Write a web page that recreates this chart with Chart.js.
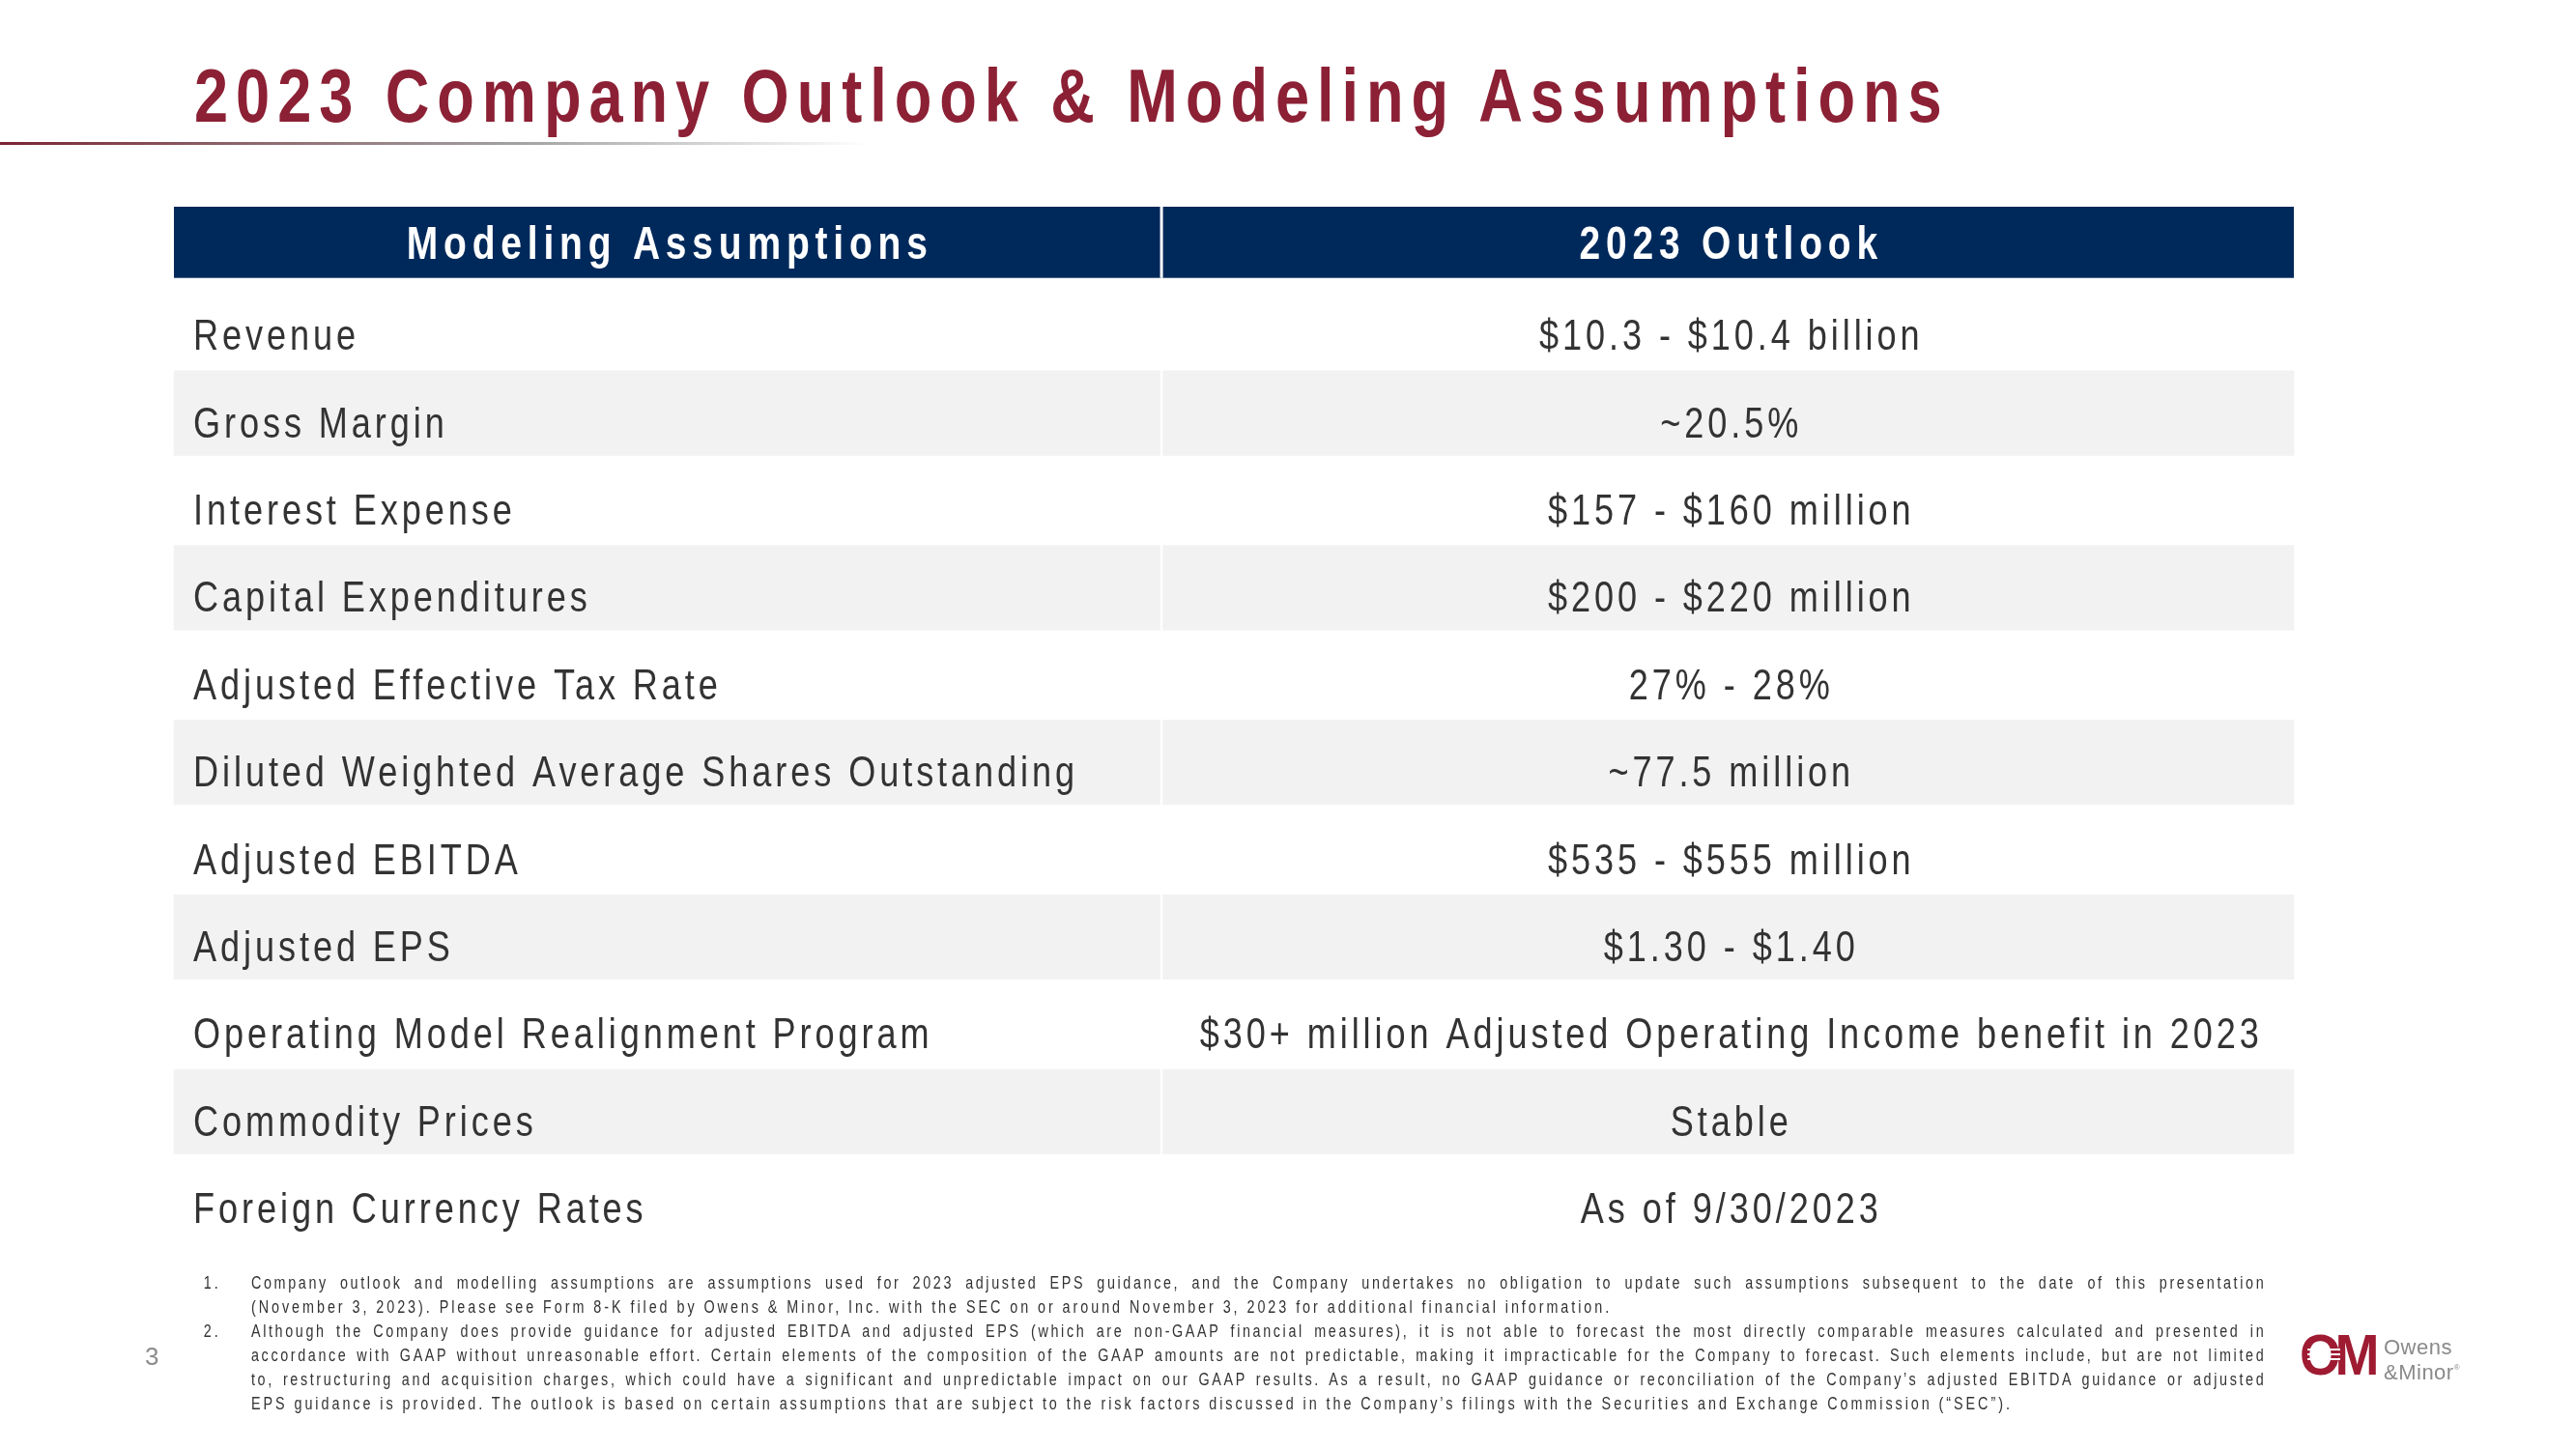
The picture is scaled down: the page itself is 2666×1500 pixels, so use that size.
<!DOCTYPE html>
<html>
<head>
<meta charset="utf-8">
<title>2023 Company Outlook &amp; Modeling Assumptions</title>
<script src="https://cdn.jsdelivr.net/npm/chart.js@4.4.1/dist/chart.umd.min.js"></script>
<style>
    html, body { margin: 0; padding: 0; background: #fff; }
    body {
        width: 2666px; height: 1500px; position: relative; overflow: hidden;
        font-family: "Liberation Sans", Arial, sans-serif;
    }
    #tableWrap { position: absolute; left: 0; top: 0; width: 2666px; height: 1500px; }
    /* no narrow face installed, so Liberation Sans is squeezed to ~82% */
    .title {
        position: absolute; left: 201px; top: 61px;
        font-size: 77px; line-height: 77px; font-weight: bold;
        letter-spacing: 9.7px; color: #8C2034; white-space: nowrap;
        transform: scaleX(0.82); transform-origin: left top;
    }
    .rule {
        position: absolute; left: 0; top: 147px; width: 900px; height: 3px;
        background: linear-gradient(to right, #7B2434 0%, #8E6A70 30%, #A3A3A3 60%, rgba(215, 215, 215, 0) 100%);
    }
    .notes {
        position: absolute; left: 260px; top: 1316px; width: 2543px;
        font-size: 17.5px; line-height: 25px; letter-spacing: 3.6px; color: #333;
        transform: scaleX(0.82); transform-origin: left top;
    }
    .notes .l { position: relative; text-align: left; }
    .notes .j { text-align: justify; text-align-last: justify; letter-spacing: 3.2px; }
    .notes .num { position: absolute; left: -60px; top: 0; letter-spacing: 3.6px; }
    .page {
        position: absolute; left: 150px; top: 1391px;
        font-size: 26px; line-height: 26px; color: #8C8C8C;
    }
    .om {
        position: absolute; left: 2380px; top: 1373px; font-weight: bold;
        font-size: 60px; line-height: 60px; letter-spacing: -7px; color: #9E1B32;
        transform: scaleX(0.92); transform-origin: left top;
    }
    .stripe { position: absolute; left: 2388px; width: 34px; height: 1.5px; background: #fff; }
    .brand {
        position: absolute; left: 2467px;
        font-size: 22px; line-height: 22px; letter-spacing: 0.5px; color: #8A8A8A; white-space: nowrap;
    }
    .brand sup { font-size: 8px; vertical-align: 10px; }
</style>
</head>
<body>
<div class="title">2023 Company Outlook &amp; Modeling Assumptions</div>
<div class="rule"></div>

<div id="tableWrap"><canvas id="outlookTable"></canvas></div>

<div class="notes">
    <div class="l j"><span class="num">1.</span>Company outlook and modelling assumptions are assumptions used for 2023 adjusted EPS guidance, and the Company undertakes no obligation to update such assumptions subsequent to the date of this presentation</div>
    <div class="l">(November 3, 2023). Please see Form 8-K filed by Owens &amp; Minor, Inc. with the SEC on or around November 3, 2023 for additional financial information.</div>
    <div class="l j"><span class="num">2.</span>Although the Company does provide guidance for adjusted EBITDA and adjusted EPS (which are non-GAAP financial measures), it is not able to forecast the most directly comparable measures calculated and presented in</div>
    <div class="l j">accordance with GAAP without unreasonable effort. Certain elements of the composition of the GAAP amounts are not predictable, making it impracticable for the Company to forecast. Such elements include, but are not limited</div>
    <div class="l j">to, restructuring and acquisition charges, which could have a significant and unpredictable impact on our GAAP results. As a result, no GAAP guidance or reconciliation of the Company’s adjusted EBITDA guidance or adjusted</div>
    <div class="l">EPS guidance is provided. The outlook is based on certain assumptions that are subject to the risk factors discussed in the Company’s filings with the Securities and Exchange Commission (“SEC”).</div>
</div>

<div class="page">3</div>

<div class="om">OM</div>
<div class="stripe" style="top:1396px"></div>
<div class="stripe" style="top:1401px"></div>
<div class="stripe" style="top:1406px"></div>
<div class="brand" style="top:1384px">Owens</div>
<div class="brand" style="top:1405px">&amp;Minor<sup>®</sup></div>

<script>
const columnTitles = ["Modeling Assumptions", "2023 Outlook"];

const assumptions = [
    "Revenue",
    "Gross Margin",
    "Interest Expense",
    "Capital Expenditures",
    "Adjusted Effective Tax Rate",
    "Diluted Weighted Average Shares Outstanding",
    "Adjusted EBITDA",
    "Adjusted EPS",
    "Operating Model Realignment Program",
    "Commodity Prices",
    "Foreign Currency Rates"
];

const outlook2023 = [
    "$10.3 - $10.4 billion",
    "~20.5%",
    "$157 - $160 million",
    "$200 - $220 million",
    "27% - 28%",
    "~77.5 million",
    "$535 - $555 million",
    "$1.30 - $1.40",
    "$30+ million Adjusted Operating Income benefit in 2023",
    "Stable",
    "As of 9/30/2023"
];

// column split on a 0..100 table-width scale
const SPLIT = 46.59;
const NAVY = '#00295B';
const ROW_GREY = '#F2F2F2';
const TEXT_GREY = '#333333';
const NARROW = 0.82;

// squeezed text, since there is no narrow font to use
function narrowText(ctx, text, x, y, align, spacing) {
    ctx.save();
    ctx.translate(x, y);
    ctx.scale(NARROW, 1);
    ctx.letterSpacing = spacing + 'px';
    ctx.textAlign = align;
    // letterSpacing also trails the last glyph, pull centred text back
    const shift = align === 'center' ? spacing / 2 : 0;
    ctx.fillText(text, shift, 0);
    ctx.restore();
}

// header band + all cell text, placed with the chart's own scales
const tableText = {
    id: 'tableText',
    afterDatasetsDraw(chart) {
        const { ctx, chartArea, scales: { x, y } } = chart;
        const splitPx = x.getPixelForValue(SPLIT);
        const leftCenter = x.getPixelForValue(SPLIT / 2);
        const rightCenter = x.getPixelForValue((SPLIT + 100) / 2);

        ctx.save();
        ctx.textBaseline = 'alphabetic';

        // header row
        const headTop = chartArea.top - 78;
        const headBottom = chartArea.top - 4.3;
        ctx.fillStyle = NAVY;
        ctx.fillRect(chartArea.left + 1.5, headTop, chartArea.right - chartArea.left - 3, headBottom - headTop);
        ctx.fillStyle = '#fff';
        ctx.fillRect(splitPx - 1.5, headTop, 3, headBottom - headTop);

        ctx.font = 'bold 47.5px "Liberation Sans", Arial, sans-serif';
        narrowText(ctx, columnTitles[0], leftCenter, chartArea.top - 23.8, 'center', 7.1);
        narrowText(ctx, columnTitles[1], rightCenter, chartArea.top - 23.8, 'center', 7.1);

        // body rows
        ctx.font = '44px "Liberation Sans", Arial, sans-serif';
        ctx.fillStyle = TEXT_GREY;
        assumptions.forEach((label, i) => {
            const base = y.getPixelForValue(i) + 25;
            narrowText(ctx, label, chartArea.left + 21.5, base, 'left', 4.8);
            narrowText(ctx, outlook2023[i], rightCenter + 1, base, 'center', 4.8);
        });

        ctx.restore();
    }
};

const rowColour = (c) => (c.dataIndex % 2 ? ROW_GREY : '#FFFFFF');

const tableChart = new Chart(document.getElementById('outlookTable').getContext('2d'), {
    type: 'bar',
    data: {
        labels: assumptions,
        datasets: [
            {
                label: columnTitles[0],
                data: assumptions.map(() => [0, SPLIT]),
                backgroundColor: rowColour
            },
            {
                label: columnTitles[1],
                data: outlook2023.map(() => [SPLIT, 100]),
                backgroundColor: rowColour
            }
        ]
    },
    options: {
        indexAxis: 'y',
        responsive: true,
        maintainAspectRatio: false,
        animation: false,
        layout: {
            padding: { left: 178.5, right: 290.5, top: 292, bottom: 213.6 }
        },
        datasets: {
            bar: {
                grouped: false,
                barPercentage: 1,
                categoryPercentage: 1,
                borderWidth: 1.5,
                borderColor: '#FFFFFF',
                borderSkipped: false
            }
        },
        scales: {
            x: { display: false, min: 0, max: 100 },
            y: { display: false }
        },
        plugins: {
            legend: { display: false },
            tooltip: { enabled: false }
        }
    },
    plugins: [tableText]
});
</script>
</body>
</html>
